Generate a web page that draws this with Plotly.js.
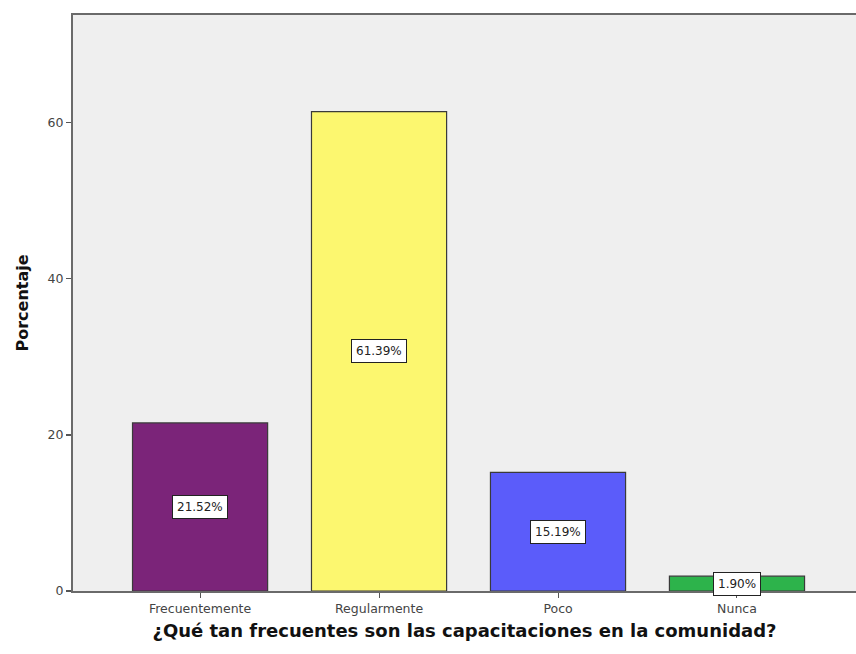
<!DOCTYPE html>
<html>
<head>
<meta charset="utf-8">
<script src="https://cdn.plot.ly/plotly-3.0.1.min.js"></script>
<style>html,body{margin:0;padding:0;background:#fff;}#chart{width:856px;height:654px;}</style>
</head>
<body>
<div id="chart"></div>
<script>
var categories = ["Frecuentemente", "Regularmente", "Poco", "Nunca"];
var percentages = [21.52, 61.39, 15.19, 1.90];
var barColors = ["#7b2479", "#fcf76f", "#5b5cfa", "#2db34b"];
var yTicks = [0, 20, 40, 60];

var trace = {
  type: "bar",
  x: categories,
  y: percentages,
  width: 0.755,
  marker: {color: barColors, line: {color: "#3a3a3a", width: 1.2}},
  hoverinfo: "skip"
};

var annotations = categories.map(function (c, i) {
  return {
    x: c, y: percentages[i] / 2, xref: "x", yref: "y",
    text: percentages[i].toFixed(2) + "%",
    showarrow: false,
    bgcolor: "#ffffff", bordercolor: "#222222", borderwidth: 1, borderpad: 4,
    font: {family: "DejaVu Sans, sans-serif", size: 12, color: "#222"}
  };
});

var layout = {
  width: 856, height: 654,
  margin: {l: 73, r: 0, t: 15, b: 63},
  paper_bgcolor: "#ffffff",
  plot_bgcolor: "#efefef",
  showlegend: false,
  bargap: 0,
  xaxis: {
    type: "category",
    range: [-0.71, 3.665],
    showline: true, linecolor: "#6a6a6a", linewidth: 2, mirror: true,
    ticks: "outside", ticklen: 5, tickwidth: 1, tickcolor: "#555",
    showgrid: false, zeroline: false,
    tickfont: {family: "DejaVu Sans, sans-serif", size: 12.5, color: "#444"},
    title: {text: "¿Qué tan frecuentes son las capacitaciones en la comunidad?",
            font: {family: "DejaVu Sans, sans-serif", size: 18, color: "#111", weight: "bold"}, standoff: 9}
  },
  yaxis: {
    range: [0, 73.75],
    tickvals: yTicks, ticktext: yTicks.map(String),
    showline: true, linecolor: "#6a6a6a", linewidth: 2,
    ticks: "outside", ticklen: 5, tickwidth: 1.5, tickcolor: "#555",
    showgrid: false, zeroline: false,
    tickfont: {family: "DejaVu Sans, sans-serif", size: 12.5, color: "#444"},
    title: {text: "Porcentaje",
            font: {family: "DejaVu Sans, sans-serif", size: 16, color: "#111", weight: "bold"}, standoff: 15}
  },
  annotations: annotations
};

Plotly.newPlot("chart", [trace], layout, {displayModeBar: false, staticPlot: true});
</script>
</body>
</html>
